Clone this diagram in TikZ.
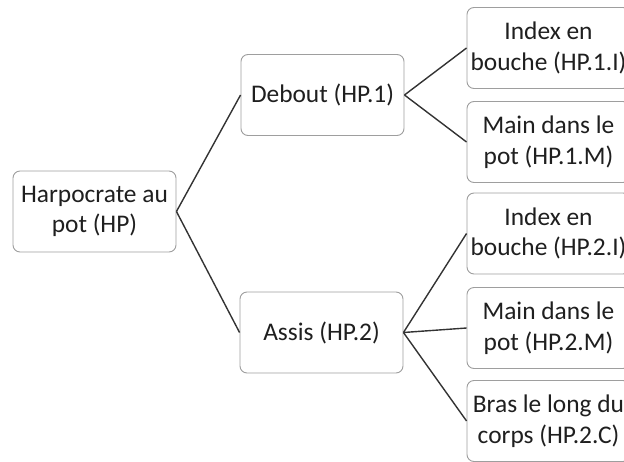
\documentclass[tikz,border=0pt]{standalone}
\usepackage{fontspec}
\setmainfont{Carlito}
\begin{document}
\begin{tikzpicture}[x=1pt,y=-1pt,
  box/.style={draw=black!38, line width=0.9pt, rounded corners=7pt, fill=white,
    minimum width=163pt, minimum height=81pt, align=center, inner sep=0pt,
    text=black!88, font=\fontsize{25.4}{30.5}\selectfont},
  link/.style={draw=black!80, line width=1.4pt}]
\useasboundingbox (0,0) rectangle (624,461);
\clip (0,0) rectangle (624,461);
\node[box] (hp) at (94.5,211.5) {Harpocrate au\\pot (HP)};
\node[box] (hp1) at (322.5,95) {Debout (HP.1)};
\node[box] (hp2) at (321.5,332.5) {Assis (HP.2)};
\node[box] (hp1i) at (548.5,48) {Index en\\bouche (HP.1.I)};
\node[box] (hp1m) at (548.5,142) {Main dans le\\pot (HP.1.M)};
\node[box] (hp2i) at (548.5,233.5) {Index en\\bouche (HP.2.I)};
\node[box] (hp2m) at (548.5,328) {Main dans le\\pot (HP.2.M)};
\node[box] (hp2c) at (548.5,421) {Bras le long du\\corps (HP.2.C)};
\draw[link] (hp.east) -- (hp1.west);
\draw[link] (hp.east) -- (hp2.west);
\draw[link] (hp1.east) -- (hp1i.west);
\draw[link] (hp1.east) -- (hp1m.west);
\draw[link] (hp2.east) -- (hp2i.west);
\draw[link] (hp2.east) -- (hp2m.west);
\draw[link] (hp2.east) -- (hp2c.west);
\end{tikzpicture}
\end{document}
